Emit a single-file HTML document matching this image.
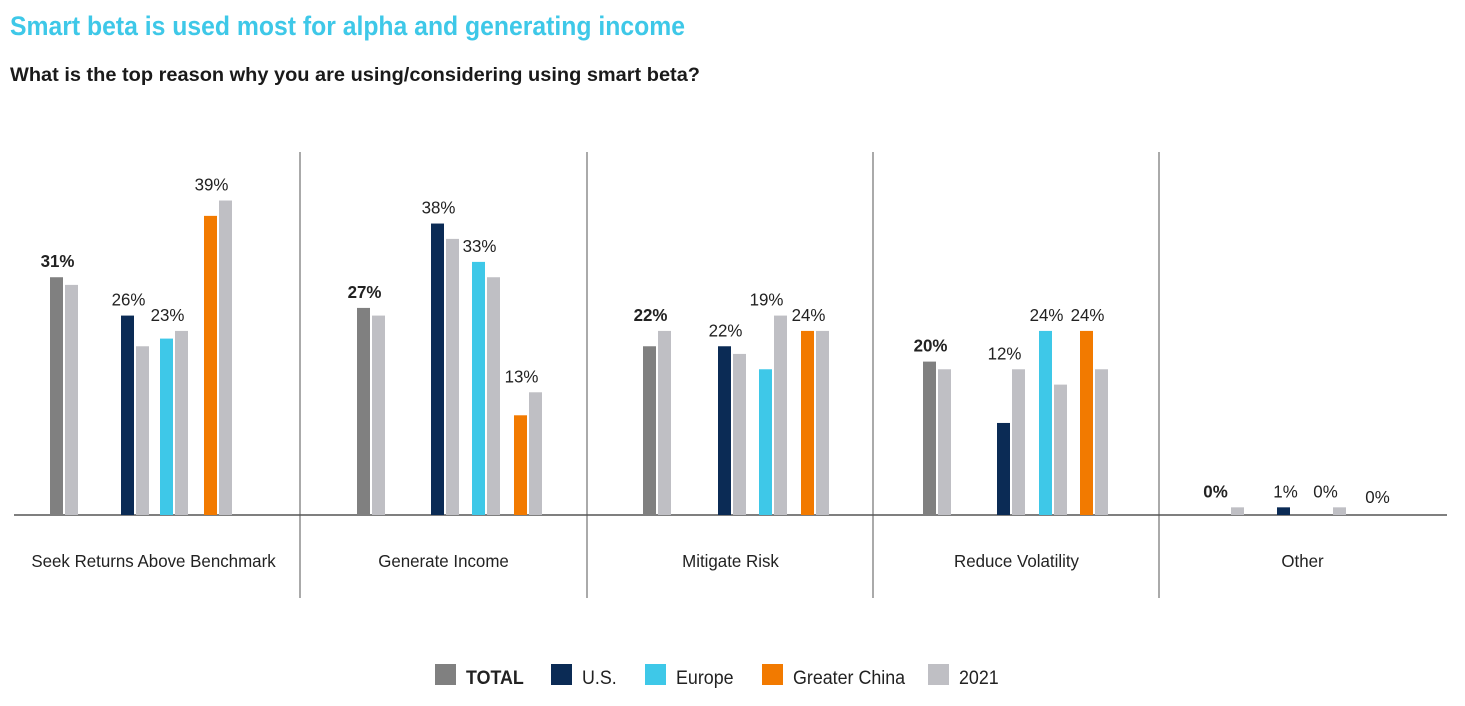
<!DOCTYPE html>
<html><head><meta charset="utf-8"><style>
html,body{margin:0;padding:0;background:#fff;}
svg{display:block;font-family:"Liberation Sans Narrow","Liberation Sans",sans-serif;}
</style></head><body>
<svg id="chart" width="1465" height="706" viewBox="0 0 1465 706" xmlns="http://www.w3.org/2000/svg">
<text x="10" y="35" font-size="27" font-weight="bold" fill="#3ec8e8" textLength="675" lengthAdjust="spacingAndGlyphs">Smart beta is used most for alpha and generating income</text>
<text x="10" y="81" font-size="19" font-weight="bold" fill="#1a1a1a" textLength="690" lengthAdjust="spacingAndGlyphs">What is the top reason why you are using/considering using smart beta?</text>
<g id="plot"></g>
<g id="legend"></g>
</svg>
<script>
const categories = ["Seek Returns Above Benchmark","Generate Income","Mitigate Risk","Reduce Volatility","Other"];
const seriesNames = ["TOTAL","U.S.","Europe","Greater China"];
const totalVals = [31,27,22,20,0];
const usVals = [26,38,22,12,1];
const europeVals = [23,33,19,24,0];
const chinaVals = [39,13,24,24,0];
const total2021 = [30,26,24,19,1];
const us2021 = [22,36,21,19,0];
const europe2021 = [24,31,26,17,1];
const china2021 = [41,16,24,19,0];

const NS="http://www.w3.org/2000/svg";
const plot=document.getElementById('plot');
const base=515, pxPer=7.67;
const y=v=>base - v*pxPer;
const groupStart=[14,300,587,873,1159], groupW=287;
const offsets=[[36,107,146,190],[57,131,172,214],[56,131,172,214],[50,124,166,207],[57,118,159,210]];
const colors=["#808080","#0b2b55","#3ec8e8","#f27a00"];
const gray="#bfbfc4";
const prim=[totalVals,usVals,europeVals,chinaVals];
const prev=[total2021,us2021,europe2021,china2021];
const bw=13;
const SX=0.94;
function mk(tag,attrs){const e=document.createElementNS(NS,tag);for(const k in attrs)e.setAttribute(k,attrs[k]);return e;}
function txt(x,yy,attrs){const t=mk('text',Object.assign({x:0,y:0,transform:'translate('+x+','+yy+') scale('+SX+',1)'},attrs));return t;}

const ax=mk('line',{x1:14,x2:1447,y1:base,y2:base,stroke:'#333','stroke-width':1.2});


plot.appendChild(ax);
[300,587,873,1159].forEach((x,i)=>{
  const l=mk('line',{x1:x,x2:x,y1:152,y2:598,stroke:'#555','stroke-width':1});
  
  
  plot.appendChild(l);
});
categories.forEach((c,g)=>{
  const t=txt(groupStart[g]+groupW/2+(g==0?-4:0),567,{'font-size':18,'text-anchor':'middle',fill:'#222'});
  t.textContent=c;
  
  
  plot.appendChild(t);
  for(let s=0;s<4;s++){
    const x0=groupStart[g]+offsets[g][s];
    const v=prim[s][g], p=prev[s][g];
    if(v>0){
      const r=mk('rect',{x:x0,y:y(v),width:bw,height:v*pxPer,fill:colors[s]});
      
      
      plot.appendChild(r);
    }
    if(p>0){
      const r2=mk('rect',{x:x0+bw+2,y:y(p),width:bw,height:p*pxPer,fill:gray});
      
      
      plot.appendChild(r2);
    }
    const top=Math.min(y(v),y(p));
    const lbl=txt(x0+bw/2+(g==4?(s==0?-7:(s==2?1:2)):1),Math.min(top-10,503),{'font-size':18,'text-anchor':'middle',fill:'#222','font-weight':s==0?'bold':'normal'});
    lbl.textContent=v+'%';
    
    
    plot.appendChild(lbl);
  }
});

const legend=document.getElementById('legend');
const legNames=["TOTAL","U.S.","Europe","Greater China","2021"];
const legColors=[...colors,gray];
const legX=[435,551,645,762,928];
legNames.forEach((n,i)=>{
  const r=mk('rect',{x:legX[i],y:664,width:21,height:21,fill:legColors[i]});
  
  
  legend.appendChild(r);
  const t=txt(legX[i]+31,684,{'font-size':19,fill:'#222','font-weight':i==0?'bold':'normal'});
  t.textContent=n;
  
  
  legend.appendChild(t);
});
</script>
</body></html>
